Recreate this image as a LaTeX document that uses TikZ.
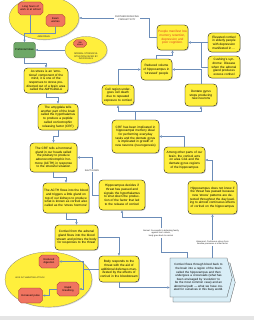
\documentclass[tikz,border=0pt]{standalone}
\usepackage{fontspec}
\setmainfont{Liberation Sans}
\usetikzlibrary{arrows.meta,calc,shapes.misc,shapes.symbols,shapes.geometric,shadows}
\definecolor{mapyel}{HTML}{FFEF3C}
\definecolor{mapred}{HTML}{F07460}
\definecolor{mapredln}{HTML}{8C2B1F}
\definecolor{mapgrn}{HTML}{6EA867}
\definecolor{mapgrnln}{HTML}{2F5C2C}
\definecolor{maplink}{HTML}{6B8CB8}
\definecolor{mapblue}{HTML}{D9EEF7}
\definecolor{maptxt}{HTML}{E0401E}
\tikzset{
  yel/.style={draw=black, line width=0.9pt, fill=mapyel, rounded corners=3.5mm,
    inner sep=1mm, align=center, font=\fontsize{9}{10.5}\selectfont,
    drop shadow={shadow xshift=0.8mm, shadow yshift=-0.8mm, opacity=0.35}},
  redbox/.style={chamfered rectangle, chamfered rectangle xsep=1.5mm, draw=mapredln,
    line width=0.7pt, fill=mapred, inner sep=0.5mm, align=center,
    font=\fontsize{7.5}{8.5}\selectfont},
  ell/.style={ellipse, draw=black!55, line width=0.6pt, fill=mapyel,
    drop shadow={shadow xshift=0.8mm, shadow yshift=-0.8mm, opacity=0.3}},
  docbox/.style={signal, signal to=east, signal pointer angle=150, draw=black!75,
    line width=0.7pt, fill=mapblue, inner sep=1mm, align=center,
    text width=55mm, minimum height=39mm, font=\fontsize{8.5}{10}\selectfont},
  link/.style={draw=maplink, line width=0.7pt},
  arr/.style={link, -{Latex[length=2.6mm,width=2.2mm]}},
  lbl/.style={font=\fontsize{6.5}{7.5}\selectfont, align=center, text=black!85},
}
\begin{document}
\begin{tikzpicture}[x=1mm,y=-1mm]
  \useasboundingbox[fill=white] (0,0) rectangle (254,320);
  \fill[black!10] (0,316) rectangle (254,320);
  % stress sources
  \node[ell, minimum width=70mm, minimum height=43mm] (stress) at (44,18) {};
  \node[ell, minimum width=42mm, minimum height=27mm] (sit) at (86,50) {};
  \node[ell, minimum width=87mm, minimum height=55mm] (aids) at (48.5,279.5) {};
  \node[redbox, text width=21mm, minimum height=13mm] (long) at (30.5,8.5) {Long hours of work or at school};
  \node[redbox, text width=15mm, minimum height=12mm] (exam) at (55.5,20.5) {Exam worries};
  \node[redbox, text width=9mm, minimum height=7mm, font=\fontsize{6}{7}\selectfont] (job) at (80,43.5) {Job stress};
  \node[lbl] at (44,37) {ABNORMAL};
  \node[lbl] at (86,56.5) {NORMAL STRESSFUL\\SITUATION FACED BY\\INDIVIDUALS};
  \node[lbl, font=\fontsize{6}{7}\selectfont] (aidl) at (30,278) {AIDS IN THWARTING ATTACK};
  \node[redbox, text width=16mm, minimum height=13mm] (digest) at (49,261.5) {Reduced digestion};
  \node[redbox, text width=18mm, minimum height=14mm] (breath) at (68,289) {Rapid breathing};
  \node[redbox, text width=20mm, minimum height=15mm] (pulse) at (30.5,295.5) {Increased pulse};
  \node[draw=mapgrnln, line width=0.8pt, fill=mapgrn, rounded corners=2mm, align=center,
    text width=19mm, minimum height=15mm, font=\fontsize{7.5}{8.5}\selectfont,
    drop shadow={shadow xshift=0.8mm, shadow yshift=-0.8mm, opacity=0.35}] (pfc) at (24.5,50) {Prefrontal lobes};
  % chain through the brain
  \node[yel, text width=29mm, minimum height=25mm, text=maptxt] (people) at (172.5,37.5) {People manifest low memory retention, depression and poor cognition.};
  \node[yel, text width=30mm, minimum height=19mm] (elev) at (224,42.5) {Elevated cortisol in elderly people with depression manifested in \dots};
  \node[yel, text width=30mm, minimum height=22mm] (cush) at (224,67) {Cushing's syndrome: Disease when the adrenal gland produces excess cortisol};
  \node[yel, text width=29mm, minimum height=21mm] (reduced) at (156.5,69.5) {Reduced volume of hippocampus in `stressed' people};
  \node[yel, text width=42mm, minimum height=25mm] (amyg) at (46,80.5) {As stress is an `emotional' component of the mind, it is one of the responses to stress pre-directed out of a brain area called the AMYGDALA};
  \node[yel, text width=30mm, minimum height=20mm] (cell) at (118,95) {Cell region undergoes cell death due to repeated exposure to cortisol};
  \node[yel, text width=30mm, minimum height=22mm] (dend) at (201,95) {Dentate gyrus stops producing new neurons};
  \node[yel, text width=38mm, minimum height=26mm] (hypo) at (58,117) {The amygdala tells another part of the brain called the hypothalamus to produce a peptide called corticotrophin releasing factor (CRF)};
  \node[yel, text width=45mm, minimum height=33mm] (crf) at (135.5,136.5) {CRF has been implicated in hippocampal memory ideal for performing everyday tasks and the dentate gyrus is implicated in growth of new neurons (neurogenesis)};
  \node[yel, text width=45mm, minimum height=29mm] (pit) at (53.5,157.5) {The CRF tells a hormonal gland in our heads called the pituitary to produce adrenocorticotrophic hormone (ACTH) in response to the stressful situation};
  \node[yel, text width=39mm, minimum height=26mm] (among) at (184.5,160) {Among other parts of our brain, the cortisol acts on area CA1 and the dentate gyrus regions of the hippocampus};
  \node[yel, text width=44mm, minimum height=30mm] (acth) at (66,198) {The ACTH flows into the blood and triggers a little gland on top of our kidneys to produce what is known as cortisol also called as the `stress hormone'};
  \node[yel, text width=44mm, minimum height=30mm] (hdec) at (122,195) {Hippocampus decides if threat has passed and signals the hypothalamus to shut down the production of the factor that led to the release of cortisol};
  \node[yel, text width=47mm, minimum height=33mm] (hnot) at (212.5,197.5) {Hippocampus does not know if the threat has passed because new `stress' patterns are detected throughout the day leading to almost continuous effects of cortisol on the hippocampus};
  \node[yel, text width=41mm, minimum height=25mm] (adren) at (76.5,237.5) {Cortisol from the adrenal gland flows into the blood stream and primes the body for responses to the threat};
  \node[yel, text width=38mm, minimum height=26mm] (body) at (119,269) {Body responds to the threat with the aid of additional defenses manifested by the effects of cortisol in the bloodstream};
  \node[docbox] at (201.5,282.5) {};
  \node[docbox] (doc) at (198.5,277.5) {Cortisol flows through blood back to the brain into a region of the brain called the hippocampus and then undergoes a crossroads (what has been envisaged by `evolution' to be the most common case) and an abnormal path --- what we have created for ourselves in this busy world.};
  \node[lbl] (fur) at (127,18) {FURTHER REDUCING\\PRODUCTIVITY};
  \node[lbl, font=\fontsize{6}{7}\selectfont] (norm) at (161,233) {Normal: Successful in defeating family\\against lion's attack,\\body goes back to normal};
  \node[lbl, font=\fontsize{6}{7}\selectfont] (abnl) at (212.5,243) {Abnormal: Continuous stress from\\timeline pressures or other factor};
  % connectors
  \coordinate (abn) at (24.5,33);
  \draw[link] (long.south) |- (abn);
  \draw[link] (exam.south) |- (abn);
  \draw[arr] (abn) -- (pfc.north);
  \draw[arr] (sit.west) -- (pfc.east);
  \draw[link] (people.west) -- ++(-8,0) |- (fur.east);
  \draw[arr] (fur.west) -- (stress.east);
  \draw[arr] (elev.west) -- (people.east |- elev.west);
  \draw[link] (cush.west) -| (201,42.5);
  \draw[arr] (dend.north) |- (reduced.east);
  \draw[arr] (reduced.north) -- ++(0,-4) -| (people.south);
  \draw[arr] (cell.north) |- (reduced.west);
  \coordinate (cj) at (135.5,111);
  \draw[link] (crf.north) -- (cj);
  \draw[arr] (cj) -| (cell.south);
  \draw[arr] (cj) -| (dend.south);
  \draw[arr] (among.north) |- (crf.east);
  \draw[arr] (hnot.north) |- (among.east);
  \draw[arr] (pfc.south) -- ++(0,5.5) -| (amyg.north);
  \draw[arr] (amyg.south) -- ++(0,4) -| (hypo.north);
  \draw[arr] (hypo.south) -- ++(0,6) -| (pit.north);
  \draw[arr] (pit.south) -- ++(0,5) -| (acth.north);
  \draw[arr] (acth.south) -- ++(0,6) -| (adren.north);
  \draw[arr] (adren.east) -| (body.north);
  \draw[arr] (hdec.west) -- ++(-7,0) |- node[pos=0.33, fill=white, lbl, inner sep=0.5mm] {SHUT DOWN} (pit.east);
  \draw[arr] (body.south) |- ([yshift=-1cm]doc.west);
  \draw[link] ([xshift=-1.15cm]doc.north) -- ++(0,-6) -| (norm.south);
  \draw[arr] (norm.north) -- ++(0,-11) -| (hdec.south);
  \draw[link] (doc.north -| abnl.south) -- (abnl.south);
  \draw[arr] (abnl.north) -- (hnot.south);
  \draw[arr] (body.west) -- ++(-16,0) |- (digest.east);
  \draw[arr] (body.west) -- ++(-16,0) |- (breath.east);
  \draw[arr] (breath.west) -- ++(-8,0) |- (pulse.east);
\end{tikzpicture}
\end{document}
